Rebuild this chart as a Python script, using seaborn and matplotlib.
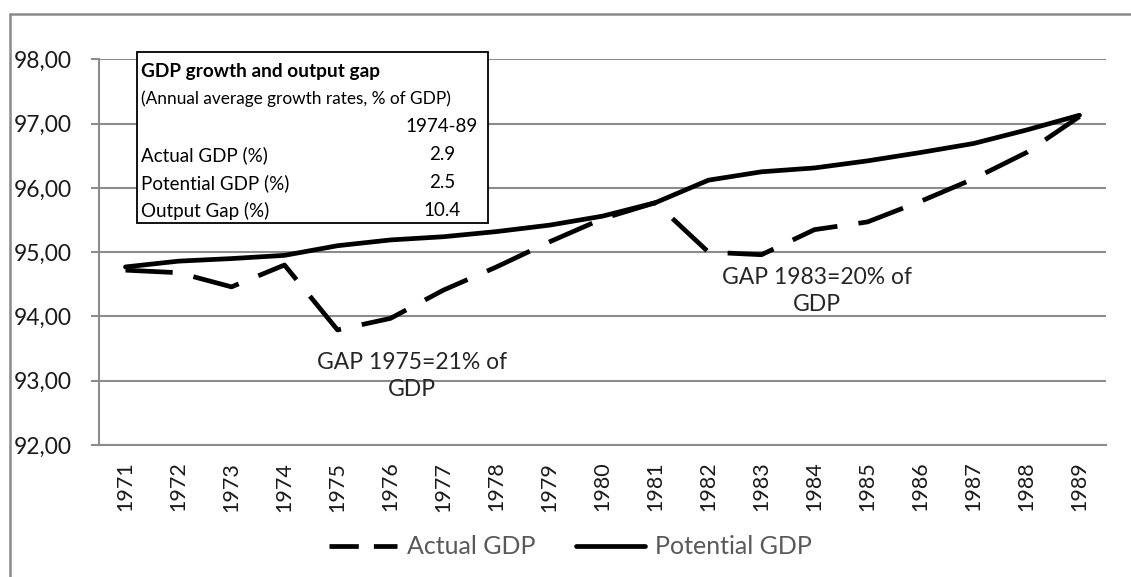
import matplotlib
matplotlib.use("Agg")
import matplotlib.pyplot as plt
from matplotlib.lines import Line2D
from matplotlib.patches import Rectangle
from matplotlib.ticker import FuncFormatter, FixedLocator
import seaborn as sns
import pandas as pd

# ---- data ----
years = list(range(1971, 1990))
actual_gdp = [94.72, 94.68, 94.46, 94.80, 93.79, 93.97, 94.41, 94.77, 95.16, 95.52,
              95.77, 95.00, 94.96, 95.35, 95.47, 95.79, 96.14, 96.55, 97.11]
potential_gdp = [94.77, 94.86, 94.90, 94.95, 95.10, 95.19, 95.24, 95.32, 95.42, 95.56,
                 95.77, 96.12, 96.25, 96.31, 96.42, 96.55, 96.69, 96.90, 97.13]
series_names = ["Actual GDP", "Potential GDP"]

table_title = "GDP growth and output gap"
table_subtitle = "(Annual average growth rates, % of GDP)"
table_period = "1974-89"
table_rows = ["Actual GDP (%)", "Potential GDP (%)", "Output Gap (%)"]
table_values = ["2.9", "2.5", "10.4"]

annot_1975 = "GAP 1975=21% of\nGDP"
annot_1983 = "GAP 1983=20% of\nGDP"

df = pd.DataFrame({
    "year": years * 2,
    "value": actual_gdp + potential_gdp,
    "series": [series_names[0]] * len(years) + [series_names[1]] * len(years),
})

sns.set_style("white")
plt.rcParams["font.family"] = ["Lato", "DejaVu Sans"]

W, H = 1131, 577
fig = plt.figure(figsize=(W / 100, H / 100), dpi=100)

def fx(px):
    return px / W

def fy(py):
    return 1 - py / H

ax_left, ax_right, ax_top, ax_bottom = 99, 1106, 59.3, 445
ax = fig.add_axes([fx(ax_left), fy(ax_bottom), fx(ax_right - ax_left), (ax_bottom - ax_top) / H])

sns.lineplot(data=df, x="year", y="value", hue="series", style="series",
             palette={series_names[0]: "black", series_names[1]: "black"},
             dashes={series_names[0]: (10, 4.5), series_names[1]: ""},
             linewidth=3.4, ax=ax, legend=False)

ax.set_xlim(1970.5, 1989.5)
ax.set_ylim(92, 98)
ax.set_xlabel("")
ax.set_ylabel("")

grid_c = "#8c8c8c"
ax.set_yticks([92, 93, 94, 95, 96, 97, 98])
ax.yaxis.set_major_formatter(FuncFormatter(lambda v, p: f"{v:.2f}".replace(".", ",")))
ax.grid(axis="y", color=grid_c, linewidth=1.5)
ax.grid(axis="x", visible=False)
ax.set_axisbelow(True)

ax.xaxis.set_major_locator(FixedLocator([y - 0.5 for y in years] + [years[-1] + 0.5]))
ax.xaxis.set_major_formatter(FuncFormatter(lambda v, p: ""))
ax.xaxis.set_minor_locator(FixedLocator(years))
ax.set_xticks(years, [str(y) for y in years], minor=True)
ax.tick_params(axis="x", which="major", length=6, width=1.5, color=grid_c, direction="out")
ax.tick_params(axis="x", which="minor", length=0, pad=12, labelsize=15.5, labelrotation=90,
               labelcolor="#1a1a1a")
ax.tick_params(axis="y", length=6, width=1.5, color=grid_c, pad=13.5, labelsize=16.5,
               labelcolor="#1a1a1a", left=True)

for s in ["top", "right"]:
    ax.spines[s].set_visible(False)
for s in ["left", "bottom"]:
    ax.spines[s].set_color(grid_c)
    ax.spines[s].set_linewidth(1.5)

# annotations
ax.text(1976.4, 93.07, annot_1975, ha="center", va="center", fontsize=16.5,
        color="#262626", linespacing=1.35)
ax.text(1984.05, 94.40, annot_1983, ha="center", va="center", fontsize=16.5,
        color="#262626", linespacing=1.35)

# outer chart border (gray)
fig.add_artist(Line2D([fx(10), fx(10)], [0, fy(14)], transform=fig.transFigure,
                      color="#8a8a8a", linewidth=1.8))
fig.add_artist(Line2D([fx(10), 1.0], [fy(14), fy(14)], transform=fig.transFigure,
                      color="#8a8a8a", linewidth=1.8))

# embedded table
bx0, bx1, by0, by1 = 137, 488, 52, 223
fig.add_artist(Rectangle((fx(bx0), fy(by1)), fx(bx1 - bx0), (by1 - by0) / H,
                         transform=fig.transFigure, facecolor="white",
                         edgecolor="black", linewidth=1.3, zorder=2))
tx = fx(141)
vx = fx(442)
fig.text(tx, fy(71), table_title, fontsize=13.7, fontweight="bold", va="center",
         ha="left", color="black", zorder=3)
fig.text(tx, fy(99), table_subtitle, fontsize=12.4, va="center", ha="left",
         color="black", zorder=3)
fig.text(vx, fy(127), table_period, fontsize=13.5, va="center", ha="center",
         color="black", zorder=3)
row_y = [155, 183, 211]
for lab, val, yy in zip(table_rows, table_values, row_y):
    fig.text(tx, fy(yy), lab, fontsize=13.5, va="center", ha="left", color="black", zorder=3)
    fig.text(vx, fy(yy), val, fontsize=13.5, va="center", ha="center", color="black", zorder=3)

# legend
handles = [Line2D([], [], color="black", linewidth=3.4, dashes=(6.2, 3.2)),
           Line2D([], [], color="black", linewidth=3.4)]
fig.legend(handles, series_names, loc="center", bbox_to_anchor=(fx(570), fy(547)),
           ncol=2, frameon=False, fontsize=18, handlelength=2.75, handletextpad=0.4,
           columnspacing=1.6, labelcolor="#595959")

fig.savefig("out.png", dpi=100)
